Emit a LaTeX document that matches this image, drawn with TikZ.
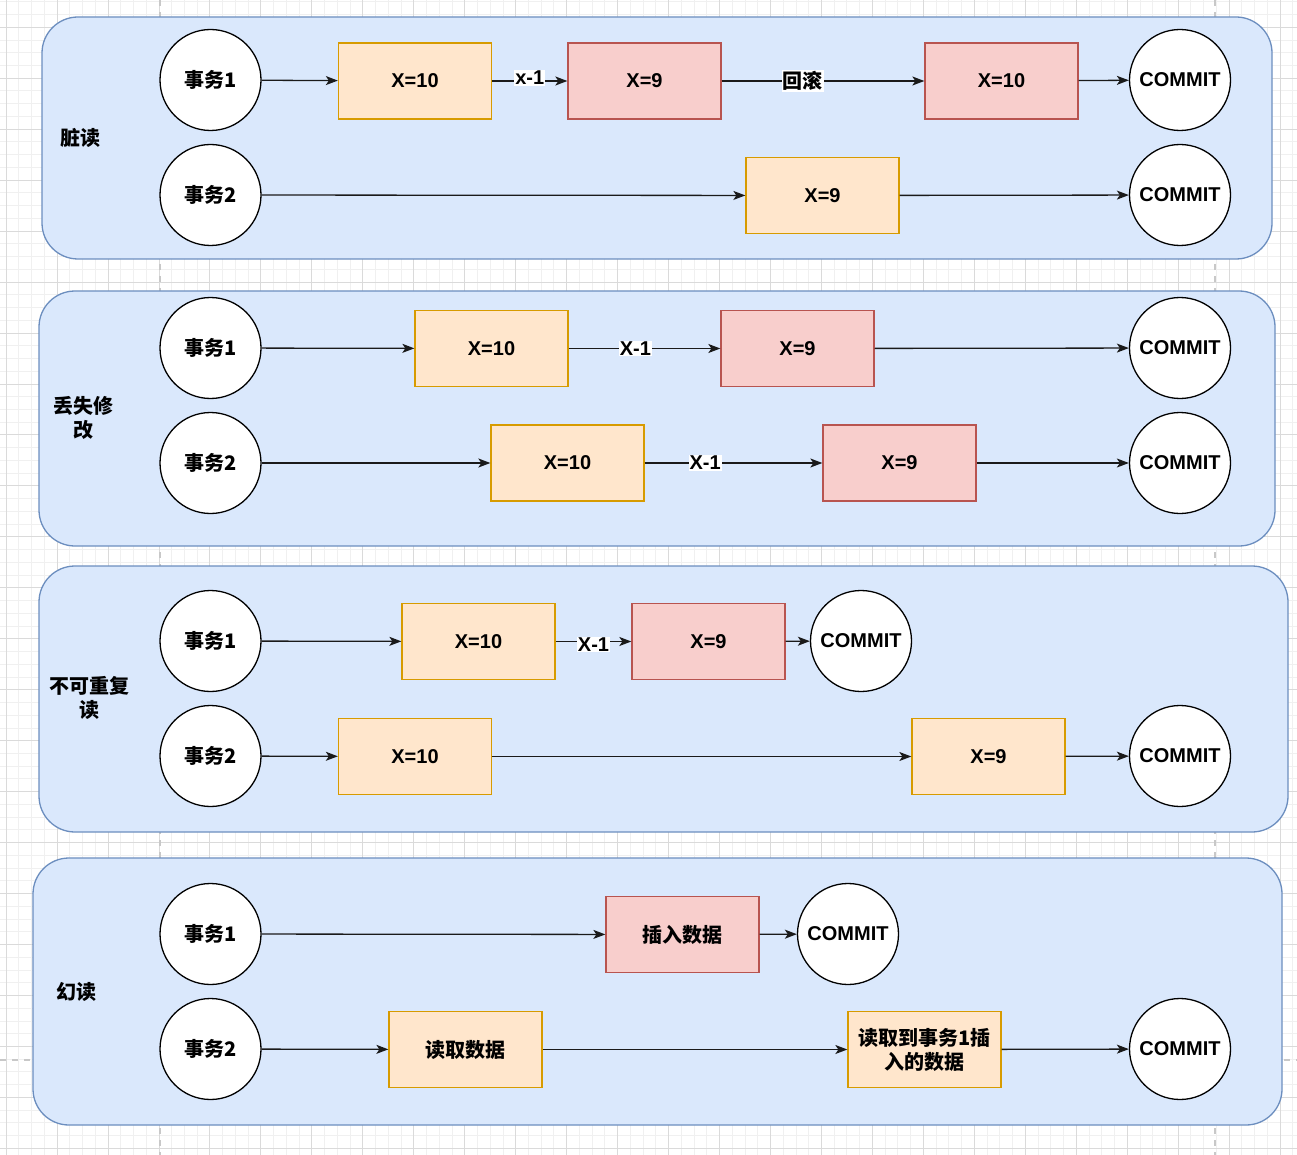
\documentclass[tikz,border=0pt]{standalone}
\usepackage{fontspec}
\setmainfont{Liberation Sans}
\newfontfamily\cjk{Noto Sans CJK SC}
\usetikzlibrary{arrows.meta}
\definecolor{panelfill}{HTML}{DAE8FC}
\definecolor{paneldraw}{HTML}{6C8EBF}
\definecolor{orfill}{HTML}{FFE6CC}
\definecolor{ordraw}{HTML}{D79B00}
\definecolor{rdfill}{HTML}{F8CECC}
\definecolor{rddraw}{HTML}{B85450}
\definecolor{gridminor}{HTML}{F0F0F0}
\definecolor{gridmajor}{HTML}{DADADA}
\definecolor{pageline}{HTML}{C8C8C8}
\definecolor{edgecol}{HTML}{1A1A1A}
\tikzset{
  panel/.style={draw=paneldraw, fill=panelfill, line width=1.3pt, rounded corners=36pt},
  tx/.style={circle, draw=black, fill=white, line width=1.3pt, minimum size=101pt, inner sep=0pt, font=\fontsize{20}{24}\selectfont\bfseries},
  obox/.style={draw=ordraw, fill=orfill, line width=1.3pt, minimum width=153pt, minimum height=76pt, inner sep=2pt, align=center, font=\fontsize{20}{24}\selectfont\bfseries},
  rbox/.style={obox, draw=rddraw, fill=rdfill},
  plabel/.style={align=center, font=\fontsize{20}{24}\selectfont\bfseries\cjk},
  arr/.style={draw=edgecol, line width=1.3pt, -{Stealth[length=12pt,width=9pt,inset=3pt]}},
  elab/.style={fill=white, inner sep=1pt, font=\fontsize{20}{24}\selectfont\bfseries},
}
\begin{document}
\begin{tikzpicture}[x=1pt,y=-1pt]
\useasboundingbox (0,0) rectangle (1297,1155);
\fill[white] (0,0) rectangle (1297,1155);
% grid
\foreach \i in {0,...,102} {
  \draw[gridminor, line width=0.8pt] ({6.04+12.74*\i},0) -- ({6.04+12.74*\i},1155);
}
\foreach \i in {0,...,91} {
  \draw[gridminor, line width=0.8pt] (0,{1.72+12.74*\i}) -- (1297,{1.72+12.74*\i});
}
\foreach \i in {0,...,25} {
  \draw[gridmajor, line width=0.8pt] ({6.04+50.96*\i},0) -- ({6.04+50.96*\i},1155);
}
\foreach \i in {0,...,22} {
  \draw[gridmajor, line width=0.8pt] (0,{27.2+50.96*\i}) -- (1297,{27.2+50.96*\i});
}
\draw[pageline, line width=1.2pt, dash pattern=on 6pt off 6pt] (160,0) -- (160,1155);
\draw[pageline, line width=1.2pt, dash pattern=on 6pt off 6pt] (1215,0) -- (1215,1155);
\draw[pageline, line width=1.2pt, dash pattern=on 6pt off 6pt] (0,1060) -- (1297,1060);

% panels
\node[panel, minimum width=1230pt, minimum height=242pt, inner sep=0pt] (p1) at (657,138) {};
\node[panel, minimum width=1236pt, minimum height=255pt, inner sep=0pt] (p2) at (657,418.5) {};
\node[panel, minimum width=1249pt, minimum height=266pt, inner sep=0pt] (p3) at (663.5,699) {};
\node[panel, minimum width=1249pt, minimum height=267pt, inner sep=0pt] (p4) at (657.5,991.5) {};

\node[plabel] (l1) at (80,138) {脏读};
\node[plabel] (l2) at (83,418) {丢失修\\改};
\node[plabel] (l3) at (89,698) {不可重复\\读};
\node[plabel] (l4) at (76,992) {幻读};

% panel 1
\node[tx] (a1) at (210.5,80) {\cjk 事务1};
\node[tx] (a2) at (210.5,195) {\cjk 事务2};
\node[obox] (a1x) at (415,81) {X=10};
\node[rbox] (a1y) at (644.5,81) {X=9};
\node[rbox] (a1z) at (1001.5,81) {X=10};
\node[tx] (a1c) at (1180,80) {COMMIT};
\node[obox] (a2x) at (822.5,195.5) {X=9};
\node[tx] (a2c) at (1180,195) {COMMIT};
\draw[arr] (a1) -- (a1x);
\draw[arr] (a1x) -- node[elab, pos=0.5, yshift=3pt] {x-1} (a1y);
\draw[arr] (a1y) -- node[elab, pos=0.4] {\cjk 回滚} (a1z);
\draw[arr] (a1z) -- (a1c);
\draw[arr] (a2) -- (a2x);
\draw[arr] (a2x) -- (a2c);

% panel 2
\node[tx] (b1) at (210.5,348) {\cjk 事务1};
\node[tx] (b2) at (210.5,463) {\cjk 事务2};
\node[obox] (b1x) at (491.5,348.5) {X=10};
\node[rbox] (b1y) at (797.5,348.5) {X=9};
\node[tx] (b1c) at (1180,348) {COMMIT};
\node[obox] (b2x) at (567.5,463) {X=10};
\node[rbox] (b2y) at (899.5,463) {X=9};
\node[tx] (b2c) at (1180,463) {COMMIT};
\draw[arr] (b1) -- (b1x);
\draw[arr] (b1x) -- node[elab, pos=0.44] {X-1} (b1y);
\draw[arr] (b1y) -- (b1c);
\draw[arr] (b2) -- (b2x);
\draw[arr] (b2x) -- node[elab, pos=0.34] {X-1} (b2y);
\draw[arr] (b2y) -- (b2c);

% panel 3
\node[tx] (c1) at (210.5,641) {\cjk 事务1};
\node[tx] (c2) at (210.5,756) {\cjk 事务2};
\node[obox] (c1x) at (478.5,641.5) {X=10};
\node[rbox] (c1y) at (708.5,641.5) {X=9};
\node[tx] (c1c) at (861,641) {COMMIT};
\node[obox] (c2x) at (415,756.5) {X=10};
\node[obox] (c2y) at (988.5,756.5) {X=9};
\node[tx] (c2c) at (1180,756) {COMMIT};
\draw[arr] (c1) -- (c1x);
\draw[arr] (c1x) -- node[elab, pos=0.5, yshift=-3pt] {X-1} (c1y);
\draw[arr] (c1y) -- (c1c);
\draw[arr] (c2) -- (c2x);
\draw[arr] (c2x) -- (c2y);
\draw[arr] (c2y) -- (c2c);

% panel 4
\node[tx] (d1) at (210.5,934) {\cjk 事务1};
\node[tx] (d2) at (210.5,1049) {\cjk 事务2};
\node[rbox, font=\fontsize{20}{24}\selectfont\bfseries\cjk] (d1x) at (682.5,934.5) {插入数据};
\node[tx] (d1c) at (848,934) {COMMIT};
\node[obox, font=\fontsize{20}{24}\selectfont\bfseries\cjk] (d2x) at (465.5,1049.5) {读取数据};
\node[obox, font=\fontsize{20}{24}\selectfont\bfseries\cjk, text width=145pt] (d2y) at (924.5,1049.5) {读取到事务1插\\入的数据};
\node[tx] (d2c) at (1180,1049) {COMMIT};
\draw[arr] (d1) -- (d1x);
\draw[arr] (d1x) -- (d1c);
\draw[arr] (d2) -- (d2x);
\draw[arr] (d2x) -- (d2y);
\draw[arr] (d2y) -- (d2c);
\end{tikzpicture}
\end{document}
